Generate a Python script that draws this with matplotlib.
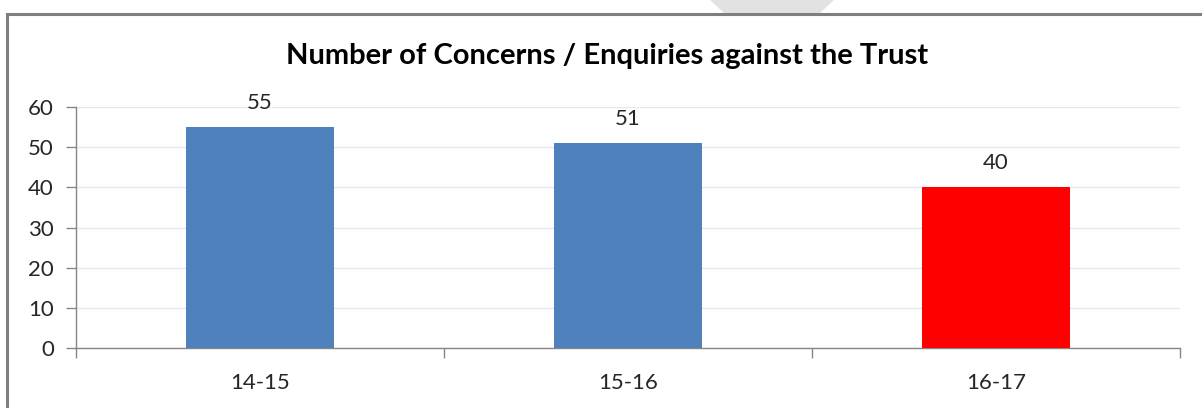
import matplotlib
matplotlib.use("Agg")
import matplotlib.pyplot as plt
from matplotlib.patches import Rectangle, Polygon
from matplotlib.ticker import FixedLocator

plt.rcParams['font.family'] = ['Lato', 'DejaVu Sans']

categories = ["14-15", "15-16", "16-17"]
values = [55, 51, 40]
colors = ["#4F81BD", "#4F81BD", "#FF0000"]
y_ticks = [0, 10, 20, 30, 40, 50, 60]
title = "Number of Concerns / Enquiries against the Trust"

W, H = 1202, 408
fig = plt.figure(figsize=(W / 100, H / 100), dpi=100)
fig.patch.set_facecolor("white")

# faint shape peeking above the chart frame
fig.patches.append(Polygon([(710 / W, 1.0), (834 / W, 1.0), (819 / W, 1 - 14 / H), (725 / W, 1 - 14 / H)],
                           closed=True, transform=fig.transFigure, facecolor="#e2e2e2",
                           edgecolor="none", zorder=0))

# chart frame (runs off the right and bottom edges)
fig.patches.append(Rectangle((7 / W, -0.1), 1.2, 1 - 14 / H + 0.1, transform=fig.transFigure,
                             facecolor="white", edgecolor="#7f7f7f", linewidth=2.2, zorder=1))

ax = fig.add_axes([76 / W, (H - 348) / H, (1180 - 76) / W, (348 - 107) / H])
ax.set_facecolor("none")
ax.set_zorder(2)

x = range(len(categories))
bars = ax.bar(x, values, width=0.4, color=colors, zorder=3)
for rect, v in zip(bars, values):
    ax.annotate(f"{v}", (rect.get_x() + rect.get_width() / 2, v), xytext=(0, 10.5),
                textcoords="offset points", ha="center", va="bottom",
                fontsize=16, color="#262626")

ax.set_xlim(-0.5, len(categories) - 0.5)
ax.set_ylim(0, 60)
ax.set_yticks(y_ticks)
ax.set_xticks(list(x))
ax.set_xticklabels(categories)
ax.xaxis.set_minor_locator(FixedLocator([i - 0.5 for i in range(len(categories) + 1)]))

ax.tick_params(axis="x", which="major", length=0, pad=18, labelsize=16, labelcolor="#262626")
ax.tick_params(axis="x", which="minor", length=7, width=1, color="#868686", direction="out")
ax.tick_params(axis="y", length=7, width=1, color="#868686", pad=9, labelsize=16,
               labelcolor="#262626")

ax.grid(axis="y", color="#e3e9f2", linewidth=1, zorder=0)
for side in ("top", "right"):
    ax.spines[side].set_visible(False)
for side in ("left", "bottom"):
    ax.spines[side].set_color("#868686")
    ax.spines[side].set_linewidth(1)

fig.text(607 / W, 1 - 56 / H, title, ha="center", va="center", fontsize=21,
         fontweight="bold", color="black", zorder=3)

fig.savefig("out.png", dpi=100)
